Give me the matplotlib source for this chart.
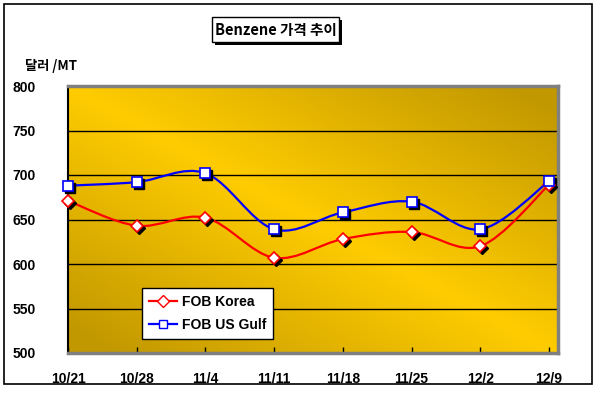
import numpy as np
import matplotlib
matplotlib.use("Agg")
import matplotlib.pyplot as plt
from matplotlib.path import Path
from matplotlib.patches import PathPatch, Rectangle
from matplotlib.lines import Line2D
import matplotlib.transforms as mtransforms

dates = ["10/21", "10/28", "11/4", "11/11", "11/18", "11/25", "12/2", "12/9"]
fob_korea = [671, 643, 652, 607, 628, 636, 620, 689]
fob_usgulf = [688, 692, 702, 639, 658, 670, 639, 693]
yticks = [500, 550, 600, 650, 700, 750, 800]

W, H = 594, 393
fig = plt.figure(figsize=(W / 100, H / 100), dpi=100)
fig.patch.set_facecolor("white")

def fx(px):
    return px / W

def fy(py):
    return 1 - py / H

ax = fig.add_axes([fx(68), fy(353), (558 - 68) / W, (353 - 86) / H])

# gradient background
n = 300
xx, yy = np.meshgrid(np.linspace(0, 1, n), np.linspace(1, 0, n))
t = np.clip(np.abs(xx + yy - 1) * 1.1, 0, 1)
bright = np.array([255, 204, 0]) / 255
dark = np.array([194, 152, 0]) / 255
img = bright[None, None, :] * (1 - t[..., None]) + dark[None, None, :] * t[..., None]
ax.imshow(img, extent=[0, 1, 0, 1], transform=ax.transAxes, aspect="auto", zorder=0)

ax.set_xlim(0, 7.13)
ax.set_ylim(500, 800)

for v in yticks[1:-1]:
    ax.axhline(v, color="black", lw=1.0, zorder=1)

x = np.arange(len(dates))

def smooth_path(xs, ys):
    pts = np.column_stack([xs, ys]).astype(float)
    verts = [pts[0]]
    codes = [Path.MOVETO]
    for i in range(len(pts) - 1):
        p0 = pts[i - 1] if i > 0 else pts[i]
        p1 = pts[i]
        p2 = pts[i + 1]
        p3 = pts[i + 2] if i + 2 < len(pts) else pts[i + 1]
        c1 = p1 + (p2 - p0) / 6
        c2 = p2 - (p3 - p1) / 6
        verts += [c1, c2, p2]
        codes += [Path.CURVE4] * 3
    return Path(verts, codes)

shadow = mtransforms.offset_copy(ax.transData, fig=fig, x=2, y=-2, units="dots")

for vals, color, marker, ms in [(fob_korea, "#FF0000", "D", 6.5),
                                (fob_usgulf, "#0000FF", "s", 7.0)]:
    patch = PathPatch(smooth_path(x, vals), facecolor="none", edgecolor=color,
                      lw=1.6, zorder=3, clip_on=False)
    ax.add_patch(patch)
    ax.plot(x, vals, linestyle="none", marker=marker, ms=ms, mfc="black",
            mec="black", transform=shadow, zorder=4, clip_on=False)
    ax.plot(x, vals, linestyle="none", marker=marker, ms=ms, mfc="white",
            mec=color, mew=1.2, zorder=5, clip_on=False)

tick_font = dict(family=["Liberation Sans Narrow", "Liberation Sans", "DejaVu Sans"],
                 weight="bold", size=10)

ax.set_yticks(yticks)
ax.set_yticklabels([str(v) for v in yticks], **tick_font)
ax.tick_params(axis="y", length=0, pad=23)
ax.set_xticks(x)
ax.set_xticklabels(dates, **tick_font)
ax.tick_params(axis="x", direction="in", length=4, width=1, color="black", pad=14)

for s in ["top", "right", "bottom"]:
    ax.spines[s].set_color("#808080")
    ax.spines[s].set_linewidth(2.5)
ax.spines["left"].set_color("black")
ax.spines["left"].set_linewidth(1.5)

# legend
handles = [
    Line2D([], [], color="#FF0000", lw=1.6, marker="D", ms=6, mfc="white", mec="#FF0000"),
    Line2D([], [], color="#0000FF", lw=1.6, marker="s", ms=6, mfc="white", mec="#0000FF"),
]
leg = ax.legend(handles, ["FOB Korea", "FOB US Gulf"], loc="upper left",
                bbox_to_anchor=((142 - 68) / 490, (353 - 288) / 267),
                borderaxespad=0, fancybox=False, framealpha=1, edgecolor="black",
                handlelength=2.0, handletextpad=0.35, borderpad=0.5, labelspacing=0.65,
                prop=dict(family=["Liberation Sans", "DejaVu Sans"], weight="bold", size=10))
leg.get_frame().set_linewidth(1.0)
leg.set_zorder(10)

# outer border
fig.patches.append(Rectangle((fx(4), fy(384)), fx(592) - fx(4), fy(4) - fy(384),
                             transform=fig.transFigure, fill=False, ec="black", lw=1.2))

# title box with shadow
bx0, bx1, by0, by1 = 212, 339, 17, 42
fig.patches.append(Rectangle((fx(bx0 + 3), fy(by1 + 3)), fx(bx1) - fx(bx0), fy(by0) - fy(by1),
                             transform=fig.transFigure, fc="black", ec="black", lw=0))
fig.patches.append(Rectangle((fx(bx0), fy(by1)), fx(bx1) - fx(bx0), fy(by0) - fy(by1),
                             transform=fig.transFigure, fc="white", ec="black", lw=1.0))
fig.text(fx((bx0 + bx1) / 2), fy((by0 + by1) / 2), "Benzene 가격 추이",
         ha="center", va="center", fontsize=10.5, fontweight="bold",
         family=["Noto Sans CJK KR", "DejaVu Sans"])

fig.text(fx(25), fy(66), "달러 /MT", ha="left", va="center", fontsize=9.5, fontweight="bold",
         family=["Noto Sans CJK KR", "DejaVu Sans"])

fig.savefig("out.png", dpi=100)
